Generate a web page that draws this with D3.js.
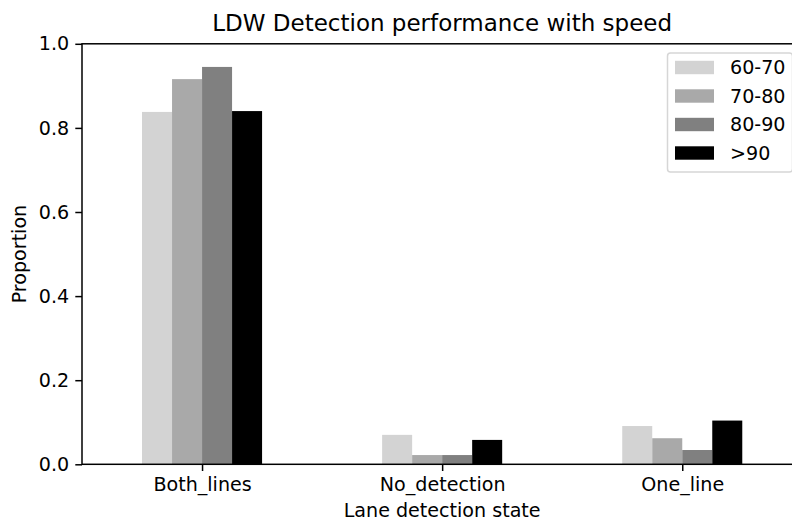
<!DOCTYPE html>
<html>
<head>
<meta charset="utf-8">
<script src="https://cdn.jsdelivr.net/npm/d3@7"></script>
<style>
  html, body { margin: 0; padding: 0; background: #fff; overflow: hidden; }
  svg { display: block; font-family: "DejaVu Sans", sans-serif; }
</style>
</head>
<body>
<svg id="chart" width="792" height="521"></svg>
<script>
// Lane detection state categories and proportion per speed band
const categories = ["Both_lines", "No_detection", "One_line"];
const speedBands = ["60-70", "70-80", "80-90", ">90"];
const band60_70 = [0.838, 0.070, 0.091];
const band70_80 = [0.916, 0.022, 0.062];
const band80_90 = [0.945, 0.022, 0.034];
const bandOver90 = [0.840, 0.058, 0.104];
const yTicks = [0.0, 0.2, 0.4, 0.6, 0.8, 1.0];
const bandColors = ["#d3d3d3", "#a9a9a9", "#808080", "#000000"];

const seriesValues = [band60_70, band70_80, band80_90, bandOver90];

const svg = d3.select("#chart");
const margin = { left: 82, right: 802.3, top: 43.8, bottom: 464.3 };
const labelSize = 19.1, titleSize = 23;

// x positions: category index with half-step padding either side
const x = d3.scaleLinear().domain([-0.5, categories.length - 0.5]).range([margin.left, margin.right]);
const y = d3.scaleLinear().domain([0, 1]).range([margin.bottom, margin.top]);

const groupWidth = 0.5;
const barW = groupWidth / speedBands.length;

// bars
seriesValues.forEach((vals, si) => {
  svg.append("g").selectAll("rect")
    .data(vals)
    .join("rect")
    .attr("x", (d, i) => x(i - groupWidth / 2 + si * barW))
    .attr("width", x(barW) - x(0))
    .attr("y", d => y(d))
    .attr("height", d => y(0) - y(d))
    .attr("fill", bandColors[si]);
});

// axes
const xAxis = d3.axisBottom(x)
  .tickValues(categories.map((c, i) => i))
  .tickFormat(i => categories[i])
  .tickSize(6.7).tickPadding(6.2);
const yAxis = d3.axisLeft(y)
  .tickValues(yTicks)
  .tickFormat(d3.format(".1f"))
  .tickSize(6.7).tickPadding(6.2);

const gx = svg.append("g").attr("transform", `translate(0,${margin.bottom})`).call(xAxis);
const gy = svg.append("g").attr("transform", `translate(${margin.left},0)`).call(yAxis);
[gx, gy].forEach(g => {
  g.select(".domain").remove();
  g.selectAll("line").attr("stroke", "#000").attr("stroke-width", 1.5);
  g.selectAll("text").attr("fill", "#000").style("font-size", labelSize + "px").style("font-family", "DejaVu Sans");
});

// spines
const spine = svg.append("g").attr("stroke", "#000").attr("stroke-width", 1.5).attr("fill", "none");
spine.append("rect")
  .attr("x", margin.left).attr("y", margin.top)
  .attr("width", margin.right - margin.left).attr("height", margin.bottom - margin.top)
  .attr("stroke-linecap", "square");

// title and axis labels
svg.append("text")
  .attr("x", (margin.left + margin.right) / 2).attr("y", 30.5)
  .attr("text-anchor", "middle").style("font-size", titleSize + "px")
  .text("LDW Detection performance with speed");
svg.append("text")
  .attr("x", (margin.left + margin.right) / 2).attr("y", 517)
  .attr("text-anchor", "middle").style("font-size", labelSize + "px")
  .text("Lane detection state");
svg.append("text")
  .attr("transform", `translate(26,${(margin.top + margin.bottom) / 2}) rotate(-90)`)
  .attr("text-anchor", "middle").style("font-size", labelSize + "px")
  .text("Proportion");

// legend
const legend = svg.append("g");
legend.append("rect")
  .attr("x", 667.5).attr("y", 53).attr("width", 125).attr("height", 119)
  .attr("rx", 3).attr("fill", "#fff").attr("fill-opacity", 0.8)
  .attr("stroke", "#d6d6d6").attr("stroke-width", 1.5);
speedBands.forEach((b, i) => {
  const cy = 67.5 + i * 28.5;
  legend.append("rect")
    .attr("x", 675).attr("y", cy - 6.7).attr("width", 39).attr("height", 13.4)
    .attr("fill", bandColors[i]);
  legend.append("text")
    .attr("x", 730).attr("y", cy + 6.7)
    .style("font-size", labelSize + "px")
    .text(b);
});
</script>
</body>
</html>
